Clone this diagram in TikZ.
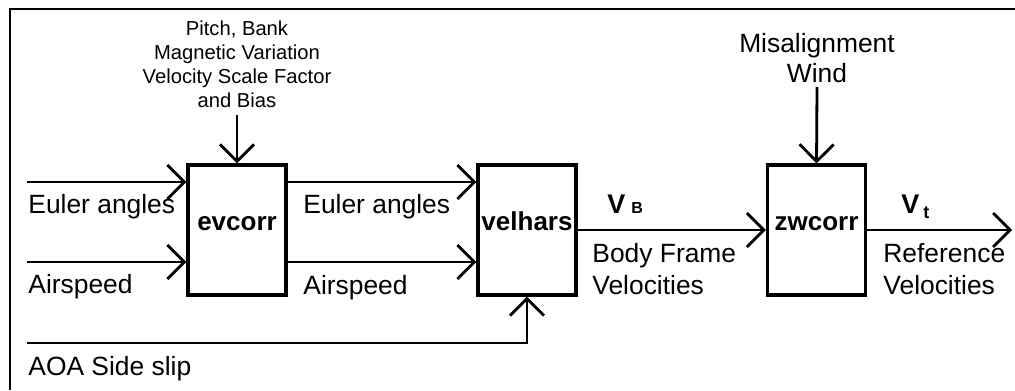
\documentclass[tikz,border=0pt]{standalone}
\usepackage{fontspec}
\setmainfont{Liberation Sans}
\usetikzlibrary{arrows.meta}

\begin{document}
\begin{tikzpicture}[x=0.5pt, y=-0.5pt,
	every node/.style={font=\fontsize{13.2}{16}\selectfont, inner sep=0pt},
	blockbox/.style={draw, line width=1.6pt, minimum width=49pt, minimum height=65pt, font=\fontsize{13}{16}\selectfont\bfseries, text height=6pt, text depth=6pt},
	flow/.style={line width=1.4pt, -{Straight Barb[length=8.5pt, width=17pt, line width=1.4pt]}},
	smalltxt/.style={font=\fontsize{10.1}{12}\selectfont, align=center},
	veltxt/.style={anchor=base west, font=\fontsize{13.5}{16}\selectfont\bfseries}]
	\useasboundingbox (0,0) rectangle (1015,390);
	\draw[line width=1pt] (10,390) -- (10,9) -- (1015,9);
	\node[blockbox] (evcorr) at (237,230) {evcorr};
	\node[blockbox] (velhars) at (527,230) {velhars};
	\node[blockbox] (zwcorr) at (816.5,230) {zwcorr};
	\coordinate (eulin) at (27,182);
	\coordinate (airin) at (27,262);
	\coordinate (aoain) at (27,343);
	\coordinate (vtout) at (1012,230);
	\node[smalltxt, anchor=south] (pitchtxt) at (237,108) {Pitch, Bank\\Magnetic Variation\\Velocity Scale Factor\\and Bias};
	\node[align=center, anchor=south, font=\fontsize{13.2}{15}\selectfont] (misaltxt) at (817,83) {Misalignment\\Wind};
	\node[anchor=base west] (eultxt) at (28,213) {Euler angles};
	\node[anchor=base west] (airtxt) at (28,293) {Airspeed};
	\node[anchor=base west] (aoatxt) at (28,375) {AOA Side slip};
	\node[anchor=base west] (eulmid) at (303,213) {Euler angles};
	\node[anchor=base west] (airmid) at (303,294) {Airspeed};
	\node[veltxt] (vbtxt) at (607,213) {V\hspace{3pt}{\fontsize{8}{9}\selectfont B}};
	\node[veltxt] (vttxt) at (901,213) {V\hspace{2pt}\raisebox{-2.5pt}{\fontsize{9}{10}\selectfont t}};
	\node[anchor=north west, align=left] (bodytxt) at (592,243) {Body Frame\\Velocities};
	\node[anchor=north west, align=left] (reftxt) at (883,243) {Reference\\Velocities};
	\draw[flow] (eulin) -- (eulin -| evcorr.west);
	\draw[flow] (airin) -- (airin -| evcorr.west);
	\draw[flow] (eulin -| evcorr.east) -- (eulin -| velhars.west);
	\draw[flow] (airin -| evcorr.east) -- (airin -| velhars.west);
	\draw[flow] (aoain) -| (velhars.south);
	\draw[flow] ([yshift=-3.5pt]pitchtxt.south) -- (evcorr.north);
	\draw[flow] ([yshift=-2pt]misaltxt.south) -- (zwcorr.north);
	\draw[flow] (velhars.east) -- (zwcorr.west);
	\draw[flow] (zwcorr.east) -- (vtout);
\end{tikzpicture}
\end{document}
